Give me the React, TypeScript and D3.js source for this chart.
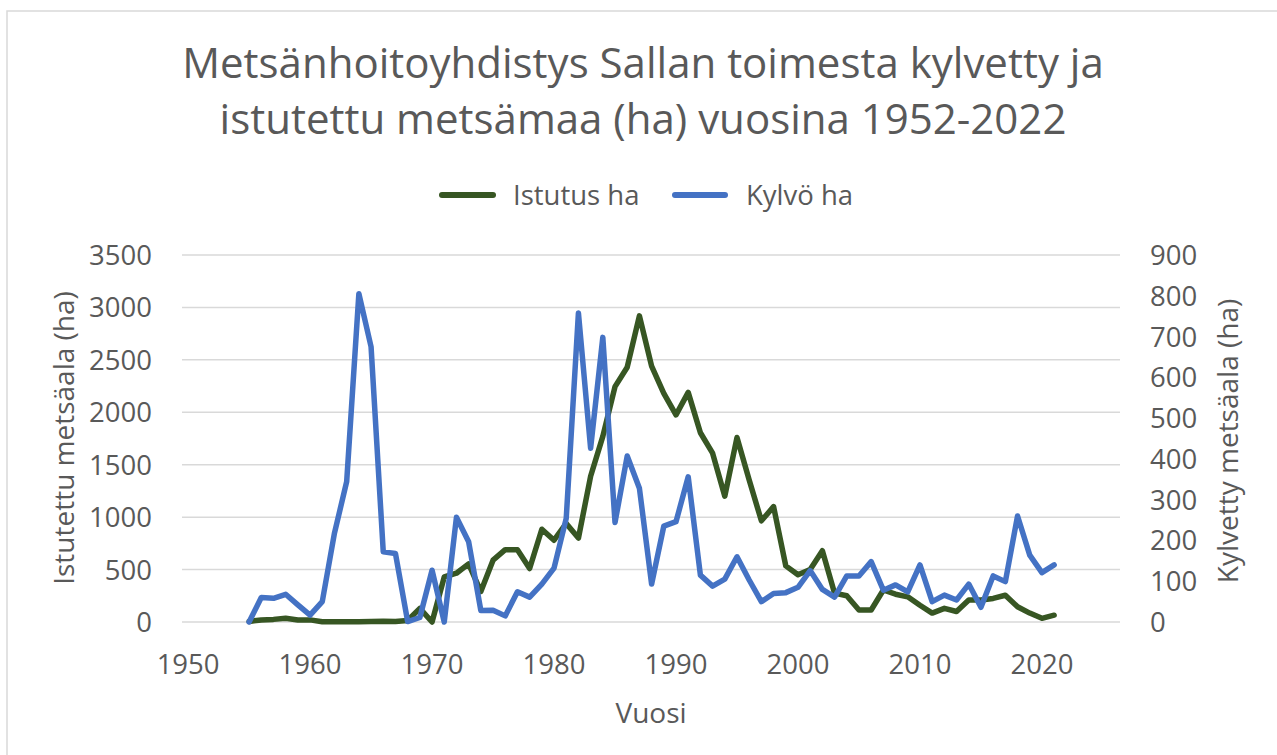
import * as d3 from 'd3';

// Vuodet 1955-2021
const years: number[] = d3.range(1955, 2022);

// Istutus ha (vasen akseli)
const istutus: number[] = [
  5, 20, 25, 35, 20, 20, 3, 3, 3, 3,
  5, 8, 5, 15, 130, 0, 430, 465, 555, 290,
  590, 690, 690, 510, 885, 780, 940, 800, 1390, 1770,
  2245, 2430, 2920, 2440, 2180, 1975, 2190, 1805, 1610, 1200,
  1760, 1355, 965, 1100, 535, 450, 500, 680, 275, 250,
  115, 115, 305, 265, 240, 160, 85, 130, 100, 210,
  210, 225, 255, 145, 85, 35, 65,
];

// Kylvö ha (oikea akseli)
const kylvo: number[] = [
  0, 60, 58, 68, 42, 17, 50, 218, 344, 805,
  675, 172, 168, 1, 11, 127, 0, 257, 197, 28,
  29, 15, 74, 61, 93, 132, 254, 758, 426, 698,
  244, 407, 328, 93, 235, 246, 356, 115, 88, 105,
  160, 103, 50, 70, 72, 85, 126, 80, 61, 113,
  113, 148, 78, 91, 74, 140, 50, 66, 54, 93,
  36, 113, 99, 260, 164, 121, 140,
];

const xTicks = [1950, 1960, 1970, 1980, 1990, 2000, 2010, 2020];
const leftTicks = [0, 500, 1000, 1500, 2000, 2500, 3000, 3500];
const rightTicks = [0, 100, 200, 300, 400, 500, 600, 700, 800, 900];

const W = 1277;
const H = 755;
const PLOT_L = 182;
const PLOT_R = 1120;
const PLOT_T = 255;
const PLOT_B = 622;

const TEXT = '#595959';
const GRID = '#D9D9D9';
const GREEN = '#375623';
const BLUE = '#4472C4';
const FONT = '"Open Sans", "Noto Sans", sans-serif';
const TICK_FS = 27.5;
const LABEL_FS = 28;

export default function App() {
  const x = d3.scaleLinear().domain([1949.5, 2026.4]).range([PLOT_L, PLOT_R]);
  const yL = d3.scaleLinear().domain([0, 3500]).range([PLOT_B, PLOT_T]);
  const yR = d3.scaleLinear().domain([0, 900]).range([PLOT_B, PLOT_T]);

  const lineL = d3.line<number>()
    .x((_, i) => x(years[i]))
    .y(d => yL(d));
  const lineR = d3.line<number>()
    .x((_, i) => x(years[i]))
    .y(d => yR(d));

  const midX = (PLOT_L + PLOT_R) / 2;

  return (
    <svg width={W} height={H} style={{ position: 'absolute', left: 0, top: 0, background: '#fff' }}
      fontFamily={FONT}>
      <rect x={7} y={11} width={W + 10} height={H + 10} fill="#fff" stroke={GRID} strokeWidth={1.5} />

      {/* otsikko */}
      <text x={643} y={78} textAnchor="middle" fontSize={42} fill={TEXT}>
        Metsänhoitoyhdistys Sallan toimesta kylvetty ja
      </text>
      <text x={643} y={134} textAnchor="middle" fontSize={42} fill={TEXT}>
        istutettu metsämaa (ha) vuosina 1952-2022
      </text>

      {/* selite */}
      <line x1={442} x2={493} y1={195} y2={195} stroke={GREEN} strokeWidth={6} strokeLinecap="round" />
      <text x={513} y={205} fontSize={TICK_FS} fill={TEXT}>Istutus ha</text>
      <line x1={675} x2={725} y1={195} y2={195} stroke={BLUE} strokeWidth={6} strokeLinecap="round" />
      <text x={746} y={205} fontSize={TICK_FS} fill={TEXT}>Kylvö ha</text>

      {/* ruudukko */}
      {leftTicks.map(t => (
        <line key={t} x1={PLOT_L} x2={PLOT_R} y1={yL(t)} y2={yL(t)} stroke={GRID} strokeWidth={1.5} />
      ))}

      {/* vasen akseli */}
      {leftTicks.map(t => (
        <text key={t} x={152} y={yL(t) + 10} textAnchor="end" fontSize={TICK_FS} fill={TEXT}>{t}</text>
      ))}
      {/* oikea akseli */}
      {rightTicks.map(t => (
        <text key={t} x={1150} y={yR(t) + 10} textAnchor="start" fontSize={TICK_FS} fill={TEXT}>{t}</text>
      ))}
      {/* x-akseli */}
      {xTicks.map(t => (
        <text key={t} x={x(t)} y={674} textAnchor="middle" fontSize={TICK_FS} fill={TEXT}>{t}</text>
      ))}

      <text transform="translate(74,438) rotate(-90)" textAnchor="middle" fontSize={LABEL_FS} fill={TEXT}>
        Istutettu metsäala (ha)
      </text>
      <text transform="translate(1238,441) rotate(-90)" textAnchor="middle" fontSize={LABEL_FS} fill={TEXT}>
        Kylvetty metsäala (ha)
      </text>
      <text x={midX} y={723} textAnchor="middle" fontSize={LABEL_FS} fill={TEXT}>Vuosi</text>

      {/* sarjat */}
      <path d={lineL(istutus) ?? ''} fill="none" stroke={GREEN} strokeWidth={5.5}
        strokeLinejoin="round" strokeLinecap="round" />
      <path d={lineR(kylvo) ?? ''} fill="none" stroke={BLUE} strokeWidth={5.5}
        strokeLinejoin="round" strokeLinecap="round" />
    </svg>
  );
}
